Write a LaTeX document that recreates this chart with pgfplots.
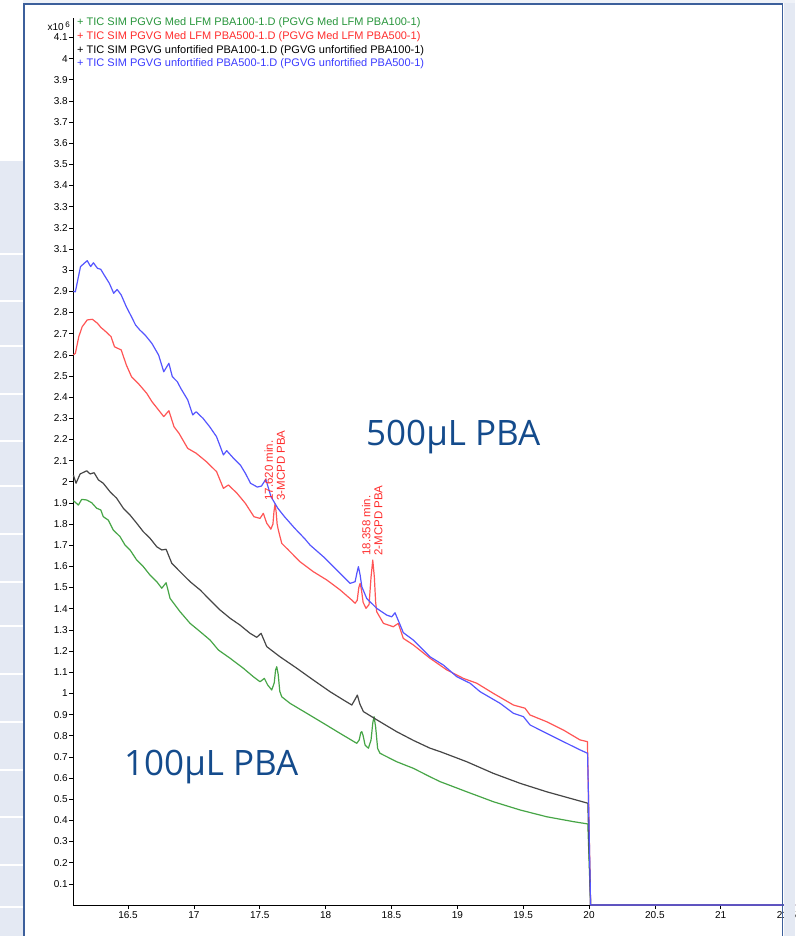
\documentclass[border=0pt]{standalone}
\usepackage{fontspec}
\setmainfont{Liberation Sans}
\newfontfamily\bigfont{Open Sans}
\usepackage{pgfplots}
\pgfplotsset{compat=1.18}
\definecolor{cgreen}{RGB}{70,165,70}
\definecolor{cred}{RGB}{255,85,85}
\definecolor{cblack}{RGB}{70,70,70}
\definecolor{cblue}{RGB}{85,85,255}
\definecolor{tgreen}{RGB}{40,150,60}
\definecolor{tred}{RGB}{255,45,45}
\definecolor{tblue}{RGB}{60,60,255}
\definecolor{titleblue}{RGB}{20,75,140}
\definecolor{frameblue}{RGB}{60,95,155}
\definecolor{bgstrip}{RGB}{228,233,243}
\begin{document}
\begin{tikzpicture}[x=1pt,y=1pt]
\clip (0,0) rectangle (795,936);
\fill[white] (0,0) rectangle (795,936);
\fill[bgstrip] (0,0) rectangle (23,775);
\foreach \yy in {254,301,346,394,441,486,534,582,626,674,722,770,817,865,907}{
  \draw[white,line width=1.5pt] (0,936-\yy) -- (23,936-\yy);
}
\begin{axis}[
  name=ax,
  at={(73pt,31pt)}, anchor=south west,
  scale only axis, width=722pt, height=886.6pt,
  xmin=16.082, xmax=21.564, ymin=0, ymax=4.19,
  axis x line=bottom, axis y line=left,
  axis line style={-, black, line width=0.8pt},
  clip=false,
  xtick={16.5,17,...,21.5},
  ytick={0.1,0.2,...,4.15},
  tick align=outside, major tick length=4pt,
  tick style={black, line width=0.6pt},
  /pgf/number format/assume math mode=true,
  ticklabel style={font=\fontsize{10}{12}\selectfont},
  yticklabel style={inner sep=1pt},
  xticklabel style={inner sep=2pt},
  every axis plot/.append style={line width=1.2pt, line join=round},
]
% green: Med LFM PBA100
\addplot[cgreen] coordinates {
(16.085,1.911)(16.123,1.890)(16.148,1.917)(16.186,1.914)(16.224,1.901)(16.262,1.875)
(16.293,1.867)(16.312,1.835)(16.350,1.819)(16.388,1.772)(16.439,1.741)(16.477,1.701)
(16.515,1.678)(16.566,1.630)(16.616,1.599)(16.667,1.559)(16.718,1.528)(16.756,1.497)
(16.789,1.523)(16.819,1.449)(16.895,1.386)(16.971,1.331)(17.047,1.292)(17.123,1.252)
(17.186,1.205)(17.275,1.166)(17.375,1.119)(17.451,1.079)(17.502,1.055)(17.535,1.071)
(17.560,1.040)(17.591,1.016)(17.610,1.05)(17.620,1.11)(17.629,1.126)(17.640,1.09)
(17.652,1.01)(17.667,0.984)(17.730,0.953)(17.857,0.906)(17.983,0.859)(18.110,0.811)
(18.237,0.764)(18.255,0.78)(18.267,0.815)(18.275,0.819)(18.285,0.80)(18.300,0.755)
(18.325,0.741)(18.345,0.78)(18.358,0.86)(18.368,0.890)(18.380,0.84)(18.395,0.74)
(18.413,0.717)(18.540,0.677)(18.666,0.646)(18.793,0.606)(18.869,0.583)(19.072,0.535)
(19.274,0.488)(19.477,0.449)(19.679,0.417)(19.881,0.394)(19.991,0.383)(20.012,0)
(21.564,0)
};
% red: Med LFM PBA500
\addplot[cred] coordinates {
(16.085,2.600)(16.100,2.607)(16.126,2.686)(16.152,2.733)(16.190,2.765)(16.229,2.768)
(16.268,2.749)(16.293,2.730)(16.332,2.709)(16.371,2.686)(16.397,2.638)(16.448,2.623)
(16.487,2.552)(16.526,2.497)(16.577,2.465)(16.642,2.418)(16.681,2.379)(16.732,2.339)
(16.771,2.308)(16.810,2.336)(16.849,2.260)(16.887,2.229)(16.953,2.158)(17.017,2.135)
(17.095,2.095)(17.172,2.048)(17.224,1.969)(17.262,1.985)(17.327,1.946)(17.391,1.898)
(17.456,1.835)(17.502,1.827)(17.527,1.851)(17.553,1.804)(17.570,1.790)(17.584,1.776)
(17.600,1.80)(17.608,1.86)(17.616,1.895)(17.624,1.86)(17.632,1.80)(17.641,1.772)
(17.667,1.709)(17.717,1.678)(17.806,1.622)(17.907,1.575)(18.009,1.536)(18.110,1.489)
(18.199,1.441)(18.224,1.426)(18.240,1.44)(18.252,1.50)(18.262,1.520)(18.272,1.49)
(18.285,1.43)(18.307,1.402)(18.330,1.42)(18.345,1.55)(18.358,1.630)(18.370,1.55)
(18.380,1.43)(18.388,1.386)(18.439,1.331)(18.514,1.315)(18.552,1.331)(18.590,1.260)
(18.666,1.229)(18.793,1.166)(18.920,1.111)(19.046,1.071)(19.148,1.048)(19.274,1.000)
(19.426,0.945)(19.514,0.930)(19.552,0.898)(19.679,0.866)(19.805,0.827)(19.932,0.780)
(19.988,0.772)(20.012,0)(21.564,0)
};
% black: unfortified PBA100
\addplot[cblack] coordinates {
(16.085,2.032)(16.105,1.993)(16.136,2.037)(16.186,2.052)(16.212,2.037)(16.242,2.043)
(16.275,2.009)(16.312,1.993)(16.363,1.953)(16.414,1.922)(16.464,1.875)(16.515,1.843)
(16.566,1.804)(16.616,1.764)(16.667,1.733)(16.718,1.693)(16.756,1.678)(16.789,1.681)
(16.832,1.615)(16.895,1.575)(16.971,1.528)(17.047,1.489)(17.123,1.441)(17.199,1.394)
(17.275,1.355)(17.350,1.323)(17.426,1.284)(17.477,1.265)(17.510,1.284)(17.553,1.221)
(17.654,1.173)(17.781,1.119)(17.907,1.063)(18.034,1.008)(18.135,0.969)(18.199,0.945)
(18.222,0.97)(18.241,0.992)(18.260,0.95)(18.287,0.914)(18.413,0.866)(18.540,0.819)
(18.666,0.778)(18.793,0.741)(18.869,0.725)(19.072,0.677)(19.274,0.622)(19.477,0.575)
(19.679,0.535)(19.881,0.500)(19.991,0.481)(20.012,0)(21.564,0)
};
% blue: unfortified PBA500
\addplot[cblue] coordinates {
(16.085,2.900)(16.100,2.898)(16.139,3.017)(16.190,3.045)(16.216,3.017)(16.237,3.035)
(16.268,3.009)(16.293,3.004)(16.319,2.977)(16.358,2.938)(16.391,2.891)(16.417,2.909)
(16.448,2.883)(16.487,2.827)(16.526,2.780)(16.557,2.741)(16.590,2.717)(16.629,2.694)
(16.681,2.654)(16.732,2.599)(16.771,2.520)(16.810,2.560)(16.836,2.497)(16.874,2.473)
(16.900,2.442)(16.953,2.387)(16.991,2.316)(17.017,2.331)(17.069,2.300)(17.120,2.260)
(17.172,2.213)(17.224,2.127)(17.249,2.147)(17.301,2.111)(17.353,2.079)(17.391,2.040)
(17.430,1.993)(17.482,1.975)(17.513,1.980)(17.546,2.012)(17.585,1.930)(17.637,1.875)
(17.688,1.835)(17.766,1.780)(17.843,1.730)(17.882,1.701)(17.983,1.646)(18.085,1.583)
(18.186,1.520)(18.224,1.528)(18.238,1.57)(18.249,1.599)(18.262,1.56)(18.275,1.504)
(18.312,1.449)(18.388,1.402)(18.464,1.370)(18.502,1.362)(18.527,1.381)(18.565,1.325)
(18.590,1.287)(18.666,1.252)(18.793,1.173)(18.894,1.134)(18.996,1.079)(19.097,1.048)
(19.173,1.008)(19.325,0.953)(19.426,0.906)(19.502,0.890)(19.552,0.851)(19.679,0.811)
(19.805,0.772)(19.932,0.733)(19.989,0.717)(20.012,0)(21.564,0)
};
% peak annotations
\node[rotate=90, anchor=west, align=left, text=tred, inner sep=1pt,
      font=\fontsize{11.5}{12}\selectfont] at (axis cs:17.613,1.905) {17.620 min.\\3-MCPD PBA};
\node[rotate=90, anchor=west, align=left, text=tred, inner sep=1pt,
      font=\fontsize{11.5}{12}\selectfont] at (axis cs:18.355,1.645) {18.358 min.\\2-MCPD PBA};
\end{axis}
% multiplier
\node[anchor=east, inner sep=0pt, font=\fontsize{10}{12}\selectfont] at (70,910)
  {x10\,\raisebox{3pt}{\fontsize{8}{8}\selectfont 6}};
% legend
\begin{scope}[every node/.style={anchor=west, inner sep=0pt, font=\fontsize{11}{13}\selectfont}]
\node[text=tgreen] at (77,913) {+ TIC SIM PGVG Med LFM PBA100-1.D (PGVG Med LFM PBA100-1)};
\node[text=tred]   at (77,899) {+ TIC SIM PGVG Med LFM PBA500-1.D (PGVG Med LFM PBA500-1)};
\node[text=black]  at (77,885) {+ TIC SIM PGVG unfortified PBA100-1.D (PGVG unfortified PBA100-1)};
\node[text=tblue]  at (77,872) {+ TIC SIM PGVG unfortified PBA500-1.D (PGVG unfortified PBA500-1)};
\end{scope}
% big labels
\node[anchor=base west, inner sep=0pt, text=titleblue, font=\bigfont\fontsize{35}{40}\selectfont] at (366,490) {500µL PBA};
\node[anchor=base west, inner sep=0pt, text=titleblue, font=\bigfont\fontsize{35}{40}\selectfont] at (124,160) {100µL PBA};
% window frame and slide background
\fill[bgstrip] (783.5,0) rectangle (795,936);
\fill[bgstrip!60] (23,933) rectangle (795,936);
\draw[frameblue, line width=1.6pt] (24,0) -- (24,932) -- (782.5,932) -- (782.5,0);
\end{tikzpicture}
\end{document}
